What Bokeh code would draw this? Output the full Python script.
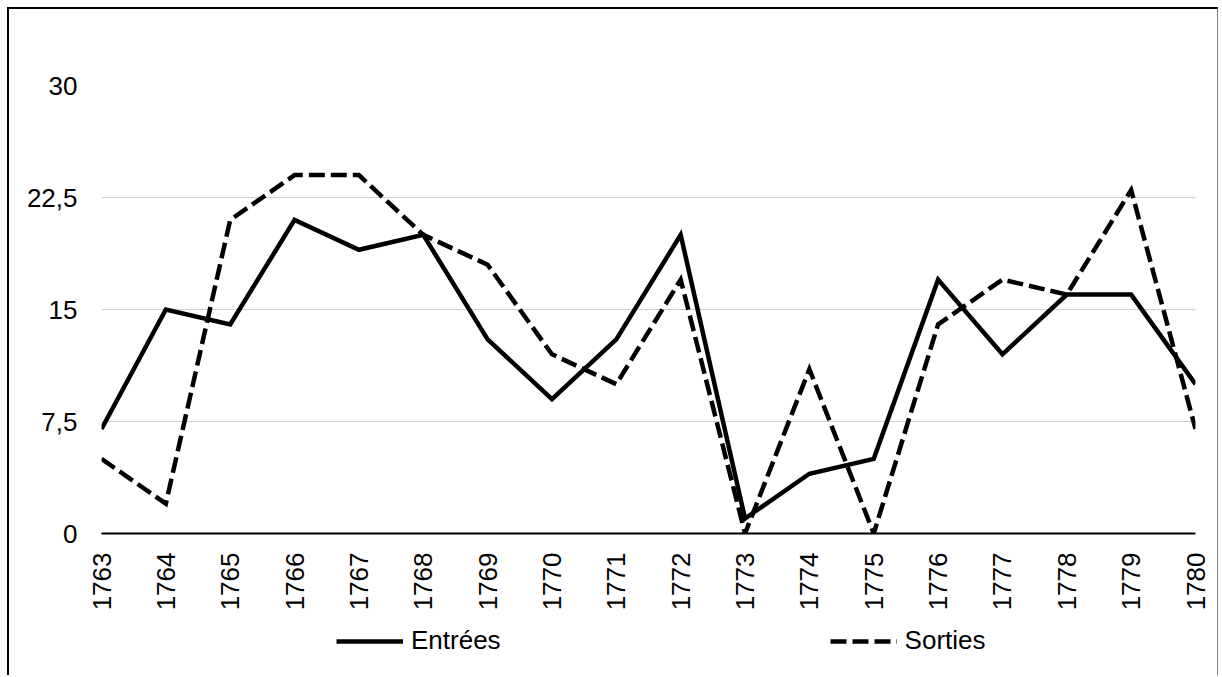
from bokeh.plotting import figure
from bokeh.layouts import column
from bokeh.models import Range1d, FixedTicker, CustomJSTickFormatter, Legend, LegendItem
from bokeh.embed import file_html
from bokeh.resources import INLINE
from math import pi

years = list(range(1763, 1781))
entrees = [7, 15, 14, 21, 19, 20, 13, 9, 13, 20, 1, 4, 5, 17, 12, 16, 16, 10]
sorties = [5, 2, 21, 24, 24, 20, 18, 12, 10, 17, 0, 11, 0, 14, 17, 16, 23, 7]
y_ticks = [0, 7.5, 15, 22.5, 30]
series_names = ["Entrées", "Sorties"]

FONT = "Liberation Sans"
BORDER = "2px solid black"
BORDER_R = "1px solid #808080"

p = figure(width=1211, height=614, output_backend="svg", toolbar_location=None,
           x_range=Range1d(years[0], years[-1]), y_range=Range1d(0, 30),
           min_border_left=92, min_border_right=25, min_border_top=76, min_border_bottom=90,
           styles={"border-top": BORDER, "border-left": BORDER, "border-right": BORDER_R,
                   "margin-left": "7px", "margin-top": "7px"})
p.outline_line_color = None
p.background_fill_color = "white"
p.border_fill_color = "white"

p.xgrid.grid_line_color = None
p.ygrid.grid_line_color = "#cfcfcf"
p.ygrid.grid_line_width = 1
p.ygrid.ticker = FixedTicker(ticks=y_ticks)

p.yaxis.ticker = FixedTicker(ticks=y_ticks)
p.yaxis.formatter = CustomJSTickFormatter(code="return tick.toString().replace('.', ',');")
p.yaxis.axis_line_color = None
p.yaxis.major_tick_line_color = None
p.yaxis.minor_tick_line_color = None
p.yaxis.major_tick_out = 0
p.yaxis.major_label_standoff = 24
p.yaxis.major_label_text_font = FONT
p.yaxis.major_label_text_font_size = "26px"
p.yaxis.major_label_text_color = "black"

p.xaxis.ticker = FixedTicker(ticks=years)
p.xaxis.major_label_orientation = pi / 2
p.xaxis.axis_line_color = "black"
p.xaxis.axis_line_width = 2
p.xaxis.major_tick_line_color = None
p.xaxis.minor_tick_line_color = None
p.xaxis.major_tick_out = 0
p.xaxis.major_label_standoff = 19
p.xaxis.major_label_text_font = FONT
p.xaxis.major_label_text_font_size = "26px"
p.xaxis.major_label_text_color = "black"

r1 = p.line(years, entrees, line_color="black", line_width=4.5, line_join="miter")
r2 = p.line(years, sorties, line_color="black", line_width=4.5, line_dash="16 6", line_join="miter")

# Legend strip below the chart (its lines are kept out of view; only the legend shows)
lg = figure(width=1211, height=54, output_backend="svg", toolbar_location=None,
            x_axis_type=None, y_axis_type=None, min_border=0,
            x_range=Range1d(years[0], years[-1]), y_range=Range1d(-100, -90),
            styles={"border-left": BORDER, "border-right": BORDER_R, "margin-left": "7px"})
lg.outline_line_color = None
lg.grid.visible = False
lg.background_fill_color = "white"
lg.border_fill_color = "white"
l1 = lg.line(years, entrees, line_color="black", line_width=4.5)
l2 = lg.line(years, sorties, line_color="black", line_width=4.5, line_dash="16 6")

legend = Legend(items=[LegendItem(label=series_names[0], renderers=[l1]),
                       LegendItem(label=series_names[1], renderers=[l2])],
                orientation="horizontal", location=(235, 19),
                glyph_width=67, glyph_height=24, label_standoff=8, spacing=329,
                padding=0, margin=0, border_line_color=None, background_fill_alpha=0,
                label_text_font=FONT, label_text_font_size="26px", label_text_color="black")
lg.add_layout(legend, "center")

page = column(p, lg, spacing=0)
open("out.html", "w").write(file_html(page, INLINE))
